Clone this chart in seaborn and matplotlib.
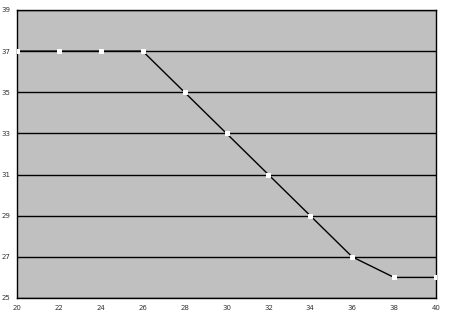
import matplotlib
matplotlib.use("Agg")
import matplotlib.pyplot as plt
import seaborn as sns
import pandas as pd

x_vals = [20, 22, 24, 26, 28, 30, 32, 34, 36, 38, 40]
y_vals = [37, 37, 37, 37, 35, 33, 31, 29, 27, 26, 26]
x_ticks = [20, 22, 24, 26, 28, 30, 32, 34, 36, 38, 40]
y_ticks = [25, 27, 29, 31, 33, 35, 37, 39]

sns.set_style("white")
plt.rcParams['font.family'] = ['DejaVu Sans']

df = pd.DataFrame({"x": x_vals, "y": y_vals})

fig = plt.figure(figsize=(4.49, 3.19), dpi=100)
ax = fig.add_axes([17/449, 21/319, 419/449, 288/319])
ax.set_facecolor("#c0c0c0")

for yt in y_ticks:
    ax.axhline(yt, color="black", lw=1.0, zorder=1)

sns.lineplot(data=df, x="x", y="y", ax=ax, color="black", lw=1.0,
             marker="s", markersize=2.5, markerfacecolor="white",
             markeredgecolor="white", zorder=3)

ax.set_xlim(20, 40)
ax.set_ylim(25, 39)
ax.set_xticks(x_ticks)
ax.set_yticks(y_ticks)
ax.set_xlabel("")
ax.set_ylabel("")
ax.tick_params(axis="both", labelsize=5, colors="black", length=2, width=0.8,
               direction="out", pad=3, labelcolor="#333333")
for s in ax.spines.values():
    s.set_color("black")
    s.set_linewidth(1.0)

fig.savefig("out.png", dpi=100)
